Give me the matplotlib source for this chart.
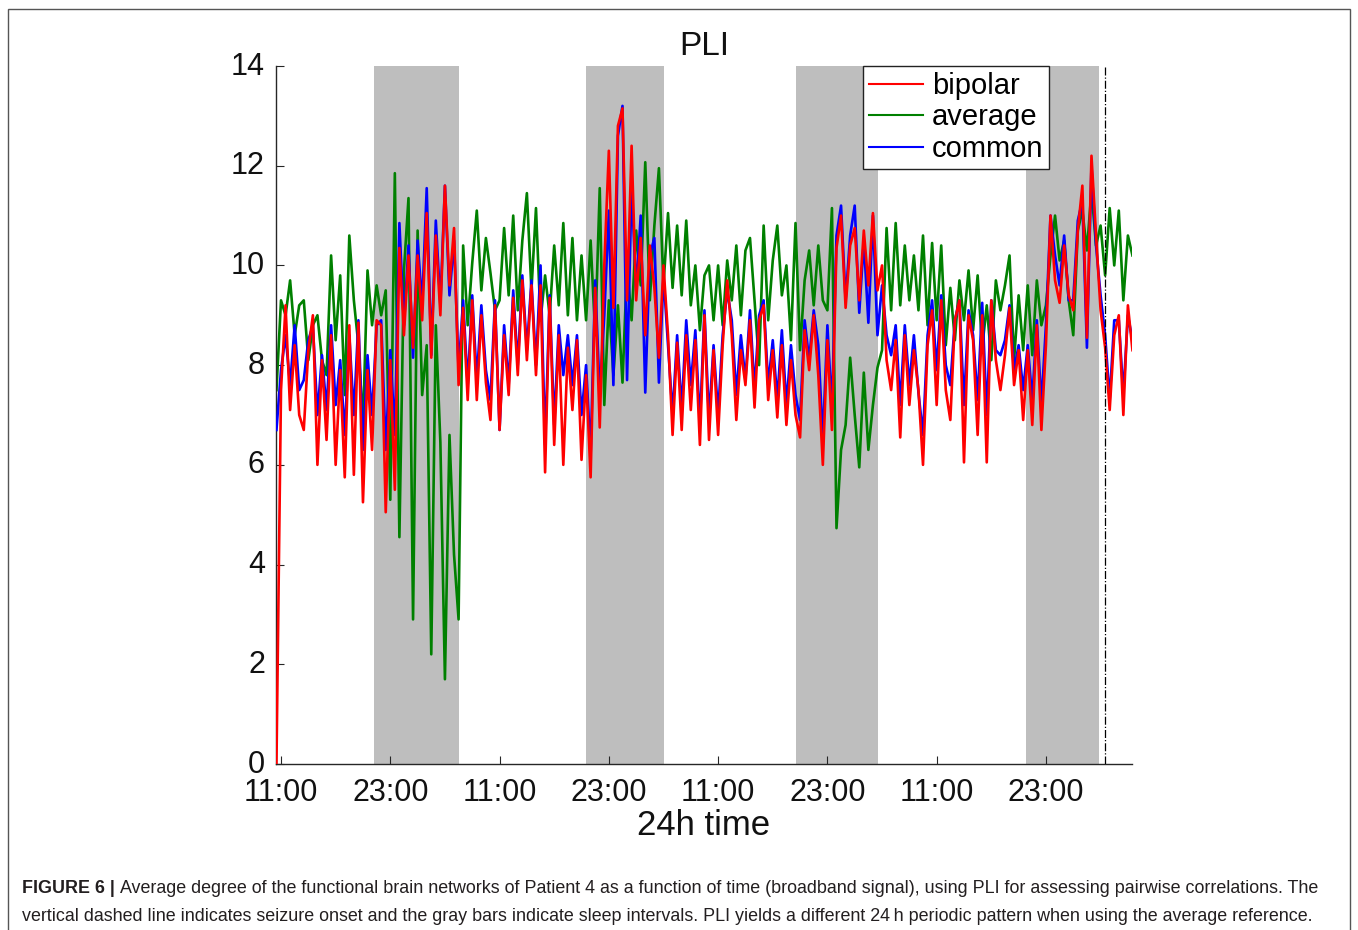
import numpy as np
import matplotlib
matplotlib.use('Agg')
import matplotlib.pyplot as plt
import matplotlib.transforms as mtransforms
from matplotlib.patches import Rectangle

# time axis in hours after the first 11:00, one sample per half hour
hours = np.arange(-0.5, 93.75, 0.5)

# average degree, bipolar reference (red)
bipolar = [
    0.0, 7.5, 9.2, 7.1, 8.4, 7.0, 6.7, 8.3, 9.0, 6.0, 8.1, 6.5,
    8.6, 6.0, 7.9, 5.75, 8.8, 5.8, 8.85, 5.25, 7.9, 6.3, 8.9,
    8.8, 5.05, 8.1, 5.5, 10.35, 8.6, 10.2, 8.35, 10.2, 8.9, 11.05, 8.15,
    10.6, 9.0, 11.6, 9.6, 10.75, 7.6, 9.15, 7.3, 9.3, 7.3, 9.0, 7.65,
    6.9, 9.2, 6.7, 8.6, 7.4, 9.35, 7.8, 9.7, 8.1, 9.6, 7.8, 9.6,
    5.85, 9.35, 6.4, 8.6, 6.0, 8.35, 7.1, 8.5, 6.1, 7.8, 5.75, 9.55,
    6.75, 10.0, 12.3, 9.15, 12.8, 13.15, 9.3, 12.4, 9.3, 10.55, 8.6, 10.4,
    9.55, 8.15, 10.0, 8.6, 6.6, 8.45, 6.7, 8.6, 7.1, 8.5, 6.4, 9.0,
    6.5, 8.3, 6.6, 8.4, 9.7, 8.6, 6.9, 8.3, 7.6, 8.9, 7.15, 8.9,
    9.2, 7.3, 8.3, 6.95, 8.4, 6.8, 8.1, 7.0, 6.55, 8.7, 7.9, 9.0,
    7.8, 6.0, 8.5, 6.7, 10.35, 11.0, 9.15, 10.4, 10.75, 9.3, 10.7, 9.6,
    11.05, 9.5, 10.0, 8.1, 7.5, 8.5, 6.55, 8.6, 7.2, 8.3, 7.5, 6.0,
    8.4, 9.1, 7.2, 9.3, 7.5, 6.9, 8.9, 9.3, 6.05, 9.0, 8.5, 6.6,
    9.0, 6.05, 9.3, 8.1, 7.5, 8.2, 9.15, 7.6, 8.3, 6.9, 8.3, 6.8,
    8.8, 6.7, 8.4, 11.0, 9.7, 9.25, 10.4, 9.4, 9.1, 10.7, 11.6, 8.55,
    12.2, 10.6, 9.1, 8.35, 7.1, 8.6, 9.0, 7.0, 9.2, 8.3,
]

# average reference (green)
average = [
    7.5, 9.3, 9.0, 9.7, 8.6, 9.2, 9.3, 8.1, 8.8, 9.0, 8.1, 7.8,
    10.2, 8.5, 9.8, 7.4, 10.6, 9.3, 8.4, 6.8, 9.9, 8.8, 9.6,
    9.0, 9.5, 5.3, 11.85, 4.55, 9.9, 11.35, 2.9, 10.7, 7.4, 8.4, 2.2,
    8.8, 6.45, 1.7, 6.6, 4.2, 2.9, 10.4, 8.8, 10.05, 11.1, 9.5, 10.55,
    9.85, 9.1, 9.3, 10.75, 9.4, 11.0, 9.1, 10.5, 11.45, 9.5, 11.15, 8.9,
    9.8, 9.0, 10.4, 9.2, 10.85, 9.0, 10.55, 8.9, 10.2, 8.9, 10.5, 8.6,
    11.55, 7.2, 9.3, 7.8, 9.2, 7.65, 10.0, 8.9, 10.7, 9.6, 12.07, 9.3,
    10.8, 11.95, 9.6, 11.05, 9.55, 10.8, 9.4, 10.9, 9.2, 10.0, 8.7, 9.8,
    10.0, 8.9, 10.0, 8.8, 10.1, 9.3, 10.4, 9.0, 10.3, 10.55, 9.3, 8.0,
    10.8, 8.9, 10.1, 10.8, 9.4, 10.0, 8.5, 10.85, 8.3, 9.7, 10.3, 9.2,
    10.4, 9.3, 9.1, 11.15, 4.73, 6.3, 6.8, 8.15, 7.0, 5.95, 7.85, 6.3,
    7.2, 7.95, 8.3, 10.75, 9.1, 10.85, 9.2, 10.4, 9.3, 10.2, 9.1, 10.6,
    8.8, 10.45, 8.9, 10.4, 8.4, 9.55, 8.5, 9.7, 8.9, 9.9, 8.7, 9.8,
    8.35, 9.2, 8.1, 9.7, 9.1, 9.6, 10.2, 8.1, 9.4, 8.3, 9.6, 8.2,
    9.7, 8.8, 9.2, 10.2, 11.0, 10.1, 10.5, 9.3, 8.6, 10.7, 11.1, 10.3,
    11.5, 10.4, 10.8, 9.8, 11.15, 10.0, 11.1, 9.3, 10.6, 10.2,
]

# common reference (blue)
common = [
    6.7, 7.9, 8.6, 7.6, 8.8, 7.5, 7.7, 8.5, 8.8, 7.0, 8.2, 7.1,
    8.8, 7.2, 8.1, 6.6, 8.6, 7.0, 8.9, 6.3, 8.2, 7.0, 8.8,
    8.9, 6.3, 8.3, 6.6, 10.85, 8.8, 10.4, 8.15, 10.5, 9.2, 11.55, 8.2,
    10.9, 9.2, 11.6, 9.4, 10.5, 7.9, 9.3, 7.6, 9.4, 7.7, 9.2, 7.9,
    7.3, 9.3, 6.7, 8.8, 7.6, 9.5, 8.0, 9.8, 8.3, 9.7, 8.0, 10.0,
    6.4, 9.4, 6.8, 8.8, 7.8, 8.6, 7.6, 8.6, 7.0, 8.0, 6.2, 9.7,
    7.4, 9.0, 11.1, 7.6, 12.6, 13.2, 7.7, 11.6, 9.5, 11.0, 7.45, 10.2,
    10.55, 7.65, 9.8, 8.4, 7.0, 8.6, 7.1, 8.9, 7.6, 8.7, 6.8, 9.1,
    6.9, 8.4, 7.0, 8.6, 9.5, 8.9, 7.4, 8.6, 7.7, 9.1, 7.5, 9.0,
    9.3, 7.6, 8.5, 7.3, 8.7, 7.2, 8.4, 7.4, 6.9, 8.9, 8.1, 9.1,
    8.4, 6.5, 8.8, 7.1, 10.6, 11.2, 9.3, 10.6, 11.2, 9.05, 10.5, 8.85,
    11.0, 8.6, 9.6, 8.6, 8.2, 8.8, 7.2, 8.8, 7.6, 8.6, 7.45, 6.6,
    8.6, 9.3, 7.9, 9.4, 8.0, 7.6, 8.9, 9.3, 7.2, 9.1, 8.6, 7.3,
    9.25, 7.0, 9.3, 8.3, 8.2, 8.5, 9.2, 7.9, 8.4, 7.5, 8.4, 7.3,
    8.9, 7.2, 8.8, 11.0, 10.2, 9.6, 10.6, 9.3, 9.3, 10.9, 11.3, 8.35,
    12.0, 10.4, 9.4, 8.6, 7.3, 8.9, 8.9, 7.4, 9.0, 8.5,
]

sleep_intervals = [(10.2, 19.55), (33.5, 42.05), (56.6, 65.55), (81.85, 89.8)]
seizure_onset = 90.45

tick_hours = [0, 12, 24, 36, 48, 60, 72, 84]
tick_labels = ['11:00', '23:00', '11:00', '23:00', '11:00', '23:00', '11:00', '23:00']

caption_head = 'FIGURE 6 |'
caption_line1 = ('Average degree of the functional brain networks of Patient 4 as a function '
                 'of time (broadband signal), using PLI for assessing pairwise correlations. The')
caption_line2 = ('vertical dashed line indicates seizure onset and the gray bars indicate sleep '
                 'intervals. PLI yields a different 24\u2009h periodic pattern when using the average reference.')


def main():
    plt.rcParams['font.family'] = ['Liberation Sans', 'DejaVu Sans']
    W, H = 1358, 930
    fig = plt.figure(figsize=(W / 100, H / 100), dpi=100)
    ax = fig.add_axes([276 / W, 1 - 764 / H, 856 / W, 698 / H])

    for start, end in sleep_intervals:
        ax.axvspan(start, end, color='#bebebe', lw=0, zorder=0)
    ax.axvline(seizure_onset, color='k', lw=0.9, ls='-.', zorder=5)

    lw = 1.9
    h_avg, = ax.plot(hours, average, color='#008000', lw=lw, zorder=2)
    h_com, = ax.plot(hours, common, color='#0000ff', lw=lw, zorder=3)
    h_bip, = ax.plot(hours, bipolar, color='#ff0000', lw=lw, zorder=4)

    leg = ax.legend([h_bip, h_avg, h_com], ['bipolar', 'average', 'common'],
                    loc='upper right', bbox_to_anchor=(0.903, 1.0), fontsize=21,
                    handlelength=1.85, handletextpad=0.3, labelspacing=0.12,
                    borderpad=0.2, borderaxespad=0, fancybox=False,
                    edgecolor='#222222', framealpha=1)
    leg.get_frame().set_linewidth(1.0)
    for line in leg.get_lines():
        line.set_linewidth(1.5)
    leg.set_zorder(10)

    ax.set_xlim(-0.55, 93.45)
    ax.set_ylim(0, 14)
    ax.set_xticks(tick_hours)
    ax.set_xticklabels(tick_labels)
    ax.set_yticks(range(0, 15, 2))
    for side in ('top', 'right'):
        ax.spines[side].set_visible(False)
    for side in ('left', 'bottom'):
        ax.spines[side].set_color('#262626')
        ax.spines[side].set_linewidth(1.0)
    ax.tick_params(direction='in', length=6, width=0.8, colors='#262626',
                   labelsize=22, labelcolor='#111111')
    ax.tick_params(axis='y', pad=8)
    ax.tick_params(axis='x', pad=10)

    # y labels sit a little above their ticks, as in the original
    shift = mtransforms.ScaledTranslation(0, 3 / 100, fig.dpi_scale_trans)
    for lab in ax.get_yticklabels():
        lab.set_transform(lab.get_transform() + shift)

    ax.set_title('PLI', fontsize=24, pad=8, color='#111111')
    ax.set_xlabel('24h time', fontsize=25, labelpad=1, color='#111111')

    # thin frame around the whole figure
    fig.patches.append(Rectangle((8 / W, -0.05), (1350 - 8) / W, 1 - 9 / H + 0.05,
                                 transform=fig.transFigure, fill=False,
                                 ec='#555555', lw=1.0))

    cap_size = 12.9
    t1 = fig.text(22 / W, 1 - 893 / H, caption_head, fontsize=cap_size,
                  weight='bold', color='#231f20', va='baseline')
    fig.canvas.draw()
    bb = t1.get_window_extent()
    fig.text((bb.x1 + 5) / W, 1 - 893 / H, caption_line1, fontsize=cap_size,
             color='#231f20', va='baseline')
    fig.text(22 / W, 1 - 921 / H, caption_line2, fontsize=cap_size,
             color='#231f20', va='baseline')

    fig.savefig('out.png', dpi=100)


if __name__ == "__main__":
    main()
